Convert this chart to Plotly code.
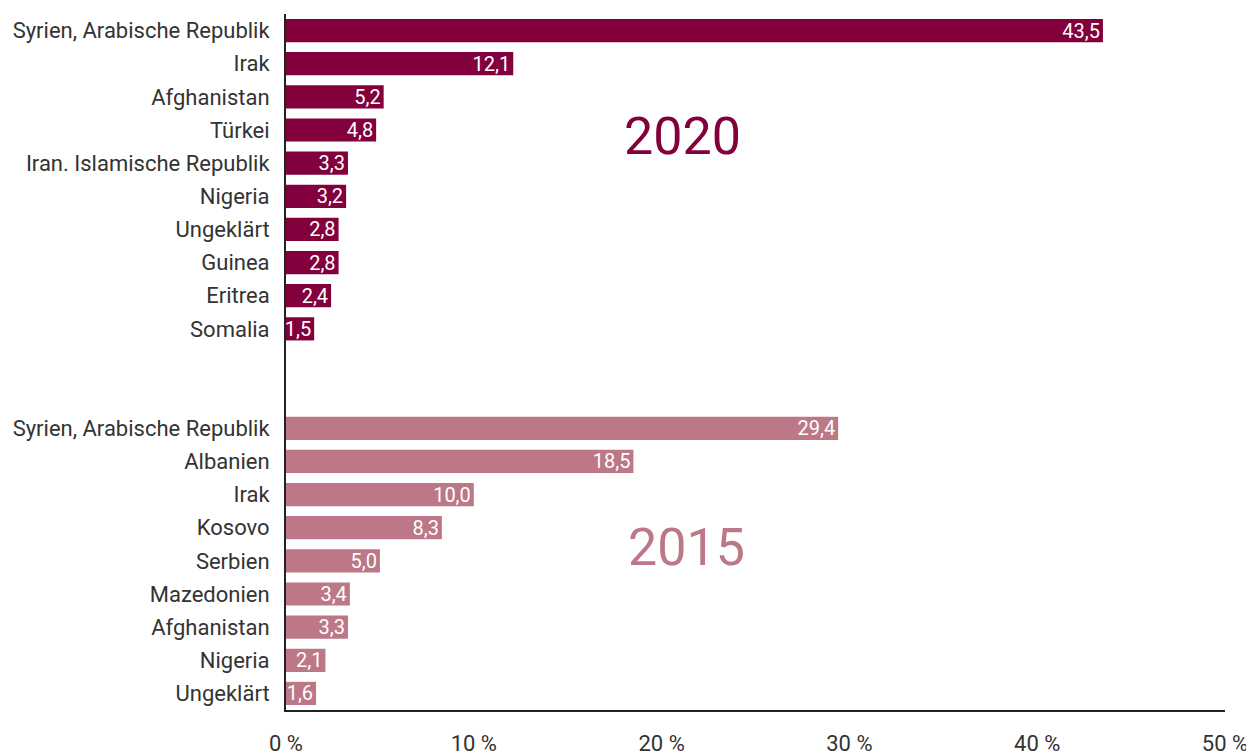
import plotly.graph_objects as go

# Herkunftsländer, Anteil in %
laender_2020 = ["Syrien, Arabische Republik", "Irak", "Afghanistan", "Türkei",
                "Iran. Islamische Republik", "Nigeria", "Ungeklärt", "Guinea",
                "Eritrea", "Somalia"]
werte_2020 = [43.5, 12.1, 5.2, 4.8, 3.3, 3.2, 2.8, 2.8, 2.4, 1.5]

laender_2015 = ["Syrien, Arabische Republik", "Albanien", "Irak", "Kosovo",
                "Serbien", "Mazedonien", "Afghanistan", "Nigeria", "Ungeklärt"]
werte_2015 = [29.4, 18.5, 10.0, 8.3, 5.0, 3.4, 3.3, 2.1, 1.6]

x_ticks = [0, 10, 20, 30, 40, 50]

FARBE_2020 = "#82003c"
FARBE_2015 = "#bc7887"
FONT = "Roboto"

# Zeilenpositionen: 2020 oben, zwei leere Zeilen, dann 2015
luecke = 2
pos_2020 = list(range(len(laender_2020)))
pos_2015 = [len(laender_2020) + luecke + i for i in range(len(laender_2015))]


def fmt(v):
    # deutsches Dezimalkomma
    return f"{v:.1f}".replace(".", ",")


fig = go.Figure()

for pos, werte, farbe in [(pos_2020, werte_2020, FARBE_2020),
                          (pos_2015, werte_2015, FARBE_2015)]:
    fig.add_trace(go.Bar(
        y=pos,
        x=werte,
        orientation="h",
        marker=dict(color=farbe, line=dict(width=0)),
        text=[fmt(v) for v in werte],
        textposition="inside",
        insidetextanchor="end",
        textangle=0,
        insidetextfont=dict(color="white", size=20, family=FONT),
        cliponaxis=False,
        showlegend=False,
        hoverinfo="skip",
    ))

# Jahreszahlen
fig.add_annotation(x=21.1, y=3.2, text="2020", showarrow=False,
                   font=dict(size=52, color=FARBE_2020, family=FONT))
fig.add_annotation(x=21.3, y=15.6, text="2015", showarrow=False,
                   font=dict(size=52, color=FARBE_2015, family=FONT))

n_slots = len(laender_2020) + luecke + len(laender_2015)

# Seite hat 8px body-margin -> Figur entsprechend kleiner
fig.update_layout(
    width=1246,
    height=745,
    margin=dict(l=278, r=29, t=6, b=43),
    plot_bgcolor="white",
    paper_bgcolor="white",
    bargap=0.3,
    font=dict(family=FONT, size=22, color="#333333"),
    uniformtext=dict(minsize=20, mode="show"),
)

fig.update_xaxes(
    range=[0, 50],
    tickvals=x_ticks,
    ticktext=[f"{t} %" for t in x_ticks],
    showgrid=False,
    zeroline=False,
    showline=True,
    linecolor="#222222",
    linewidth=2,
    ticks="",
    ticklabelstandoff=13,
    tickfont=dict(size=22, color="#333333"),
    automargin=False,
)

fig.update_yaxes(
    range=[n_slots - 0.5, -0.5],
    tickvals=pos_2020 + pos_2015,
    ticktext=laender_2020 + laender_2015,
    showgrid=False,
    zeroline=False,
    showline=True,
    linecolor="#222222",
    linewidth=2,
    ticks="",
    ticklabelstandoff=10,
    tickfont=dict(size=22, color="#333333"),
    automargin=False,
)

fig.write_html("out.html")
